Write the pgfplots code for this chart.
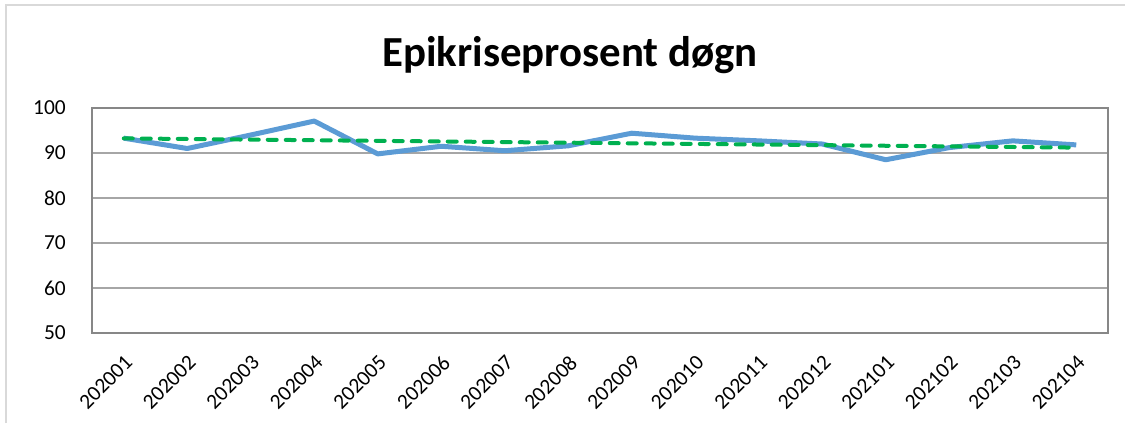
\documentclass[border=0pt]{standalone}
\usepackage{pgfplots}
\pgfplotsset{compat=1.18}
\usepackage{fontspec}
\setmainfont{Carlito}
\definecolor{seriesblue}{HTML}{5B9BD5}
\definecolor{trendgreen}{HTML}{00B050}
\definecolor{gridgray}{HTML}{A6A6A6}
\definecolor{framegray}{HTML}{878787}
\definecolor{outergray}{HTML}{D9D9D9}
\begin{document}
\begin{tikzpicture}[x=1bp,y=1bp]
\path[use as bounding box] (0,0) rectangle (1125,423);
\draw[outergray, line width=1.5bp] (6,0) -- (6,418) -- (1125,418);
\node[font=\fontsize{43}{50}\selectfont\bfseries, anchor=base, inner sep=0pt] at (570,357) {Epikriseprosent døgn};
\begin{axis}[
  at={(92bp,90bp)}, anchor=south west,
  scale only axis, width=1016bp, height=225bp,
  xmin=-0.5, xmax=15.5, ymin=50, ymax=100,
  xtick={0,...,15},
  xticklabels={202001,202002,202003,202004,202005,202006,202007,202008,202009,202010,202011,202012,202101,202102,202103,202104},
  ytick={50,60,70,80,90,100},
  ymajorgrids, major grid style={gridgray, line width=1.3bp},
  axis line style={framegray, line width=2.2bp},
  major tick length=0pt,
  tick style={draw=none},
  /pgf/number format/assume math mode=true,
  ticklabel style={font=\fontsize{21.5}{24}\selectfont, text=black},
  yticklabel style={anchor=east, inner sep=0pt},
  yticklabel shift=26bp,
  xticklabel style={rotate=45, anchor=north east, inner sep=0pt},
  xticklabel shift=21bp,
  clip=false,
]
\addplot[seriesblue, line width=5bp, line join=round] coordinates {
(0,93.3) (1,91.0) (2,94.0) (3,97.1) (4,89.8) (5,91.5) (6,90.5) (7,91.6)
(8,94.4) (9,93.3) (10,92.7) (11,92.0) (12,88.5) (13,91.2) (14,92.7) (15,91.8)
};
\addplot[trendgreen, line width=4bp, line cap=round, dash pattern=on 9bp off 9bp] coordinates {
(0,93.25) (15,91.2)
};
\end{axis}
\end{tikzpicture}
\end{document}
